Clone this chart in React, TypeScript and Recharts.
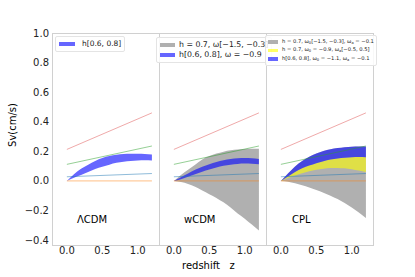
import { ComposedChart, Area, Line, XAxis, YAxis } from 'recharts';

// redshift grid shared by every band
const zGrid = [0, 0.1, 0.2, 0.3, 0.4, 0.5, 0.6, 0.7, 0.8, 0.9, 1.0, 1.1, 1.2];

// ΛCDM, h in [0.6, 0.8]
const lcdmLow = [0, 0.022, 0.04, 0.06, 0.08, 0.095, 0.11, 0.122, 0.13, 0.135, 0.138, 0.139, 0.138];
const lcdmHigh = [0, 0.045, 0.082, 0.11, 0.135, 0.155, 0.168, 0.177, 0.182, 0.184, 0.184, 0.182, 0.178];

// wCDM
const wGrayLow = [0, -0.008, -0.02, -0.04, -0.065, -0.09, -0.115, -0.145, -0.18, -0.22, -0.255, -0.295, -0.335];
const wGrayHigh = [0, 0.04, 0.075, 0.11, 0.145, 0.168, 0.185, 0.198, 0.207, 0.212, 0.215, 0.217, 0.217];
const wBlueLow = [0, 0.012, 0.028, 0.045, 0.062, 0.077, 0.09, 0.102, 0.11, 0.115, 0.117, 0.116, 0.112];
const wBlueHigh = [0, 0.025, 0.05, 0.075, 0.096, 0.113, 0.128, 0.14, 0.148, 0.153, 0.155, 0.153, 0.148];

// CPL
const cGrayLow = [0, -0.005, -0.015, -0.03, -0.045, -0.062, -0.08, -0.1, -0.123, -0.15, -0.18, -0.213, -0.25];
const cYellowLow = [0, 0.02, 0.037, 0.052, 0.065, 0.075, 0.082, 0.087, 0.088, 0.085, 0.079, 0.07, 0.06];
const cYellowHigh = [0, 0.03, 0.06, 0.085, 0.104, 0.12, 0.133, 0.144, 0.152, 0.157, 0.16, 0.161, 0.16];
const cBlueHigh = [0, 0.05, 0.098, 0.135, 0.163, 0.185, 0.202, 0.214, 0.222, 0.228, 0.231, 0.232, 0.232];

// straight reference lines, given by their end points
const lineEnds = [0, 1.2];
const redLine = [0.213, 0.46];
const greenLine = [0.112, 0.236];
const blueLine = [0.028, 0.05];
const orangeLine = [0, 0];

const yTicks = [-0.4, -0.2, 0, 0.2, 0.4, 0.6, 0.8, 1.0];
const xTicks = [0, 0.5, 1.0];

const endValue = (arr: number[], z: number) => {
  const k = lineEnds.indexOf(z);
  return k >= 0 ? arr[k] : null;
};

const rows = zGrid.map((z, i) => ({
  z,
  lcdm: [lcdmLow[i], lcdmHigh[i]],
  wGray: [wGrayLow[i], wGrayHigh[i]],
  wBlue: [wBlueLow[i], wBlueHigh[i]],
  cGray: [cGrayLow[i], cBlueHigh[i]],
  cYellow: [cYellowLow[i], cYellowHigh[i]],
  cBlue: [cYellowHigh[i], cBlueHigh[i]],
  red: endValue(redLine, z),
  green: endValue(greenLine, z),
  blue: endValue(blueLine, z),
  orange: endValue(orangeLine, z),
}));

const FONT = '"DejaVu Sans", sans-serif';
const TOP = 33;
const PLOT_W = 107;
const PLOT_H = 213;
const fmt = (v: number) => (v < 0 ? '\u2212' + Math.abs(v).toFixed(1) : v.toFixed(1));

type Band = { key: string; color: string; opacity: number };

function Panel({ left, showY, bands }: { left: number; showY: boolean; bands: Band[] }) {
  const yW = showY ? 52 : 0;
  return (
    <div style={{ position: 'absolute', left: left - yW, top: 0 }}>
      <ComposedChart width={PLOT_W + yW} height={277} data={rows} margin={{ top: TOP, right: 0, bottom: 0, left: 0 }}>
        <XAxis
          dataKey="z"
          type="number"
          domain={[-0.21, 1.3]}
          ticks={xTicks}
          tickFormatter={fmt}
          allowDataOverflow
          height={31}
          axisLine={false}
          tickLine={false}
          tickSize={0}
          tickMargin={1}
          tick={{ fontSize: 10, fill: '#222', fontFamily: FONT }}
        />
        <YAxis
          type="number"
          domain={[-0.44, 1.0]}
          ticks={yTicks}
          tickFormatter={fmt}
          allowDataOverflow
          hide={!showY}
          width={yW}
          axisLine={false}
          tickLine={false}
          tickSize={0}
          tickMargin={3}
          tick={{ fontSize: 10, fill: '#222', fontFamily: FONT }}
        />
        {bands.map((b) => (
          <Area
            key={b.key}
            dataKey={b.key}
            type="monotone"
            stroke="none"
            fill={b.color}
            fillOpacity={b.opacity}
            isAnimationActive={false}
            dot={false}
            activeDot={false}
          />
        ))}
        <Line dataKey="red" stroke="#d62728" strokeOpacity={0.4} strokeWidth={1} dot={false} connectNulls isAnimationActive={false} />
        <Line dataKey="green" stroke="#2ca02c" strokeOpacity={0.5} strokeWidth={1} dot={false} connectNulls isAnimationActive={false} />
        <Line dataKey="blue" stroke="#1f77b4" strokeOpacity={0.5} strokeWidth={1} dot={false} connectNulls isAnimationActive={false} />
        <Line dataKey="orange" stroke="#ff7f0e" strokeOpacity={0.5} strokeWidth={1} dot={false} connectNulls isAnimationActive={false} />
      </ComposedChart>
      <div
        style={{
          position: 'absolute',
          left: yW,
          top: TOP,
          width: PLOT_W + 1,
          height: PLOT_H,
          border: '1px solid #d0d0d0',
          boxSizing: 'border-box',
          pointerEvents: 'none',
        }}
      />
    </div>
  );
}

const legendBox = {
  position: 'absolute' as const,
  background: 'rgba(255,255,255,0.85)',
  border: '1px solid #e4e4e4',
  borderRadius: 2,
  fontFamily: FONT,
  color: '#222',
  whiteSpace: 'nowrap' as const,
};

function Row({ color, w, h, gap, size, children }: { color: string; w: number; h: number; gap: number; size: number; children: any }) {
  return (
    <div style={{ display: 'flex', alignItems: 'center', fontSize: size, lineHeight: 1 }}>
      <span style={{ display: 'inline-block', width: w, height: h, background: color, marginRight: gap }} />
      <span>{children}</span>
    </div>
  );
}

const sub = (t: string) => <sub style={{ fontSize: '0.7em', verticalAlign: '-0.2em' }}>{t}</sub>;
const M = '\u2212';

export default function App() {
  return (
    <div style={{ position: 'absolute', left: 0, top: 0, width: 415, height: 277, background: '#fff', overflow: 'hidden', fontFamily: FONT }}>
      <Panel left={52} showY bands={[{ key: 'lcdm', color: '#0000ff', opacity: 0.6 }]} />
      <Panel
        left={159}
        showY={false}
        bands={[
          { key: 'wGray', color: '#b0b0b0', opacity: 1 },
          { key: 'wBlue', color: '#0000ff', opacity: 0.6 },
        ]}
      />
      <Panel
        left={266}
        showY={false}
        bands={[
          { key: 'cGray', color: '#b0b0b0', opacity: 1 },
          { key: 'cYellow', color: '#ffff00', opacity: 0.6 },
          { key: 'cBlue', color: '#0000ff', opacity: 0.6 },
        ]}
      />

      {/* panel names */}
      <div style={{ position: 'absolute', left: 77, top: 215, fontSize: 10, lineHeight: '10px' }}>ΛCDM</div>
      <div style={{ position: 'absolute', left: 184, top: 215, fontSize: 10, lineHeight: '10px' }}>wCDM</div>
      <div style={{ position: 'absolute', left: 292, top: 215, fontSize: 10, lineHeight: '10px' }}>CPL</div>

      {/* axis titles */}
      <div style={{ position: 'absolute', left: 182, top: 261, fontSize: 10, lineHeight: '10px', whiteSpace: 'pre' }}>redshift   z</div>
      <div
        style={{
          position: 'absolute',
          left: 12.5,
          top: 125,
          fontSize: 10,
          lineHeight: '10px',
          whiteSpace: 'nowrap',
          transform: 'translate(-50%, -50%) rotate(-90deg)',
        }}
      >
        Sv(cm/s)
      </div>

      {/* legends */}
      <div style={{ ...legendBox, left: 55, top: 36, padding: '3px 3px 3px 3px' }}>
        <Row color="rgba(0,0,255,0.6)" w={16} h={4.5} gap={7} size={7.5}>h[0.6, 0.8]</Row>
      </div>
      <div style={{ ...legendBox, left: 156, top: 37, padding: '3px 3px 3px 3px', display: 'flex', flexDirection: 'column', gap: 2.5 }}>
        <Row color="#b0b0b0" w={15} h={4.5} gap={4} size={7.8}>h = 0.7, ω[{M}1.5, {M}0.3]</Row>
        <Row color="rgba(0,0,255,0.6)" w={15} h={4.5} gap={4} size={7.8}>h[0.6, 0.8], ω = {M}0.9</Row>
      </div>
      <div style={{ ...legendBox, left: 265, top: 35, padding: '3px 2px 3px 2px', display: 'flex', flexDirection: 'column', gap: 2 }}>
        <Row color="#b0b0b0" w={10} h={3.5} gap={4} size={5.2}>
          h = 0.7, ω{sub('0')}[{M}1.5, {M}0.3], ω{sub('a')} = {M}0.1
        </Row>
        <Row color="rgba(255,255,0,0.6)" w={10} h={3.5} gap={4} size={5.2}>
          h = 0.7, ω{sub('0')} = {M}0.9, ω{sub('a')}[{M}0.5, 0.5]
        </Row>
        <Row color="rgba(0,0,255,0.6)" w={10} h={3.5} gap={4} size={5.2}>
          h[0.6, 0.8], ω{sub('0')} = {M}1.1, ω{sub('a')} = {M}0.1
        </Row>
      </div>
    </div>
  );
}
